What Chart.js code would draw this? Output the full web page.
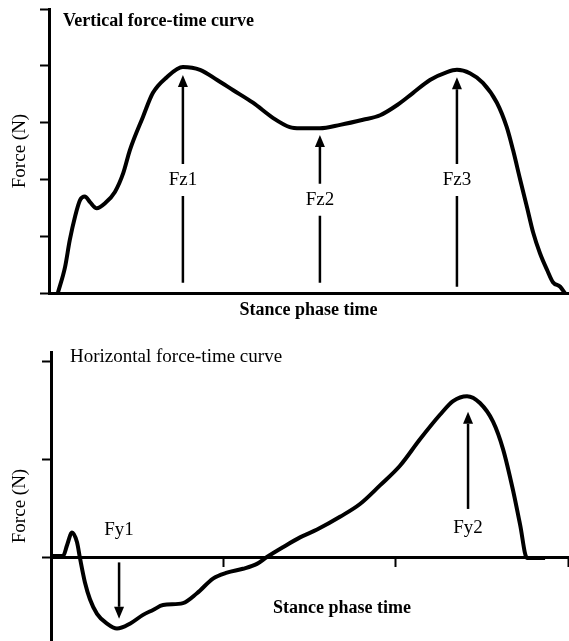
<!DOCTYPE html>
<html>
<head>
<meta charset="utf-8">
<script src="https://cdn.jsdelivr.net/npm/chart.js@4.4.1/dist/chart.umd.min.js"></script>
<style>
    html, body { margin: 0; padding: 0; background: #fff; }
    body { width: 569px; height: 641px; position: relative; overflow: hidden; }
    #vertical-chart { position: absolute; left: 0; top: 0; }
    #horizontal-chart { position: absolute; left: 0; top: 320px; }
</style>
</head>
<body>
<canvas id="vertical-chart" width="569" height="330"></canvas>
<canvas id="horizontal-chart" width="569" height="340"></canvas>
<script>
// vertical force-time curve (time in % of stance, force in tick units)
const verticalTime = [1.7, 3.1, 4.0, 5.0, 6.0, 6.9, 7.9, 9.2, 10.8, 12.7, 14.3, 15.6, 18.1, 20.0, 22.7, 25.8, 29.1, 32.4, 35.5, 39.3, 43.2, 46.4, 48.4, 52.2, 56.1, 60.5, 63.8, 67.1, 70.1, 73.4, 76.7, 78.6, 81.1, 83.6, 86.3, 88.2, 89.4, 90.8, 92.1, 93.3, 94.6, 96.0, 97.1, 98.5, 99.4];
const verticalForce = [0, 0.46, 0.93, 1.34, 1.64, 1.70, 1.60, 1.49, 1.58, 1.78, 2.11, 2.52, 3.10, 3.52, 3.80, 3.98, 3.93, 3.75, 3.57, 3.35, 3.08, 2.92, 2.90, 2.90, 2.96, 3.05, 3.13, 3.31, 3.52, 3.75, 3.89, 3.93, 3.87, 3.70, 3.35, 2.92, 2.52, 1.99, 1.51, 1.06, 0.70, 0.40, 0.19, 0.11, 0];

const verticalArrowLabels = ['Fz1', 'Fz2', 'Fz3'];
const verticalArrowTime = [25.8, 52.2, 78.6];
const verticalArrowTail = [0.18, 0.18, 0.11];
const verticalArrowTip = [3.84, 2.78, 3.80];
const verticalArrowLabelAt = [1.99, 1.64, 1.99];

// horizontal force-time curve
const horizontalTime = [0.01, 0.07, 0.093, 0.122, 0.151, 0.168, 0.197, 0.226, 0.267, 0.325, 0.383, 0.458, 0.534, 0.592, 0.650, 0.766, 0.847, 0.940, 1.021, 1.114, 1.195, 1.253, 1.346, 1.445, 1.544, 1.677, 1.793, 1.909, 2.025, 2.141, 2.257, 2.333, 2.414, 2.489, 2.565, 2.623, 2.681, 2.722, 2.762, 2.867];
const horizontalForce = [0.02, 0.02, 0.13, 0.26, 0.16, 0, -0.25, -0.42, -0.57, -0.67, -0.72, -0.67, -0.58, -0.53, -0.48, -0.46, -0.36, -0.21, -0.15, -0.11, -0.06, 0.01, 0.11, 0.21, 0.29, 0.42, 0.55, 0.74, 0.94, 1.21, 1.46, 1.60, 1.65, 1.58, 1.39, 1.11, 0.69, 0.34, 0, 0];

const horizontalArrowLabels = ['Fy1', 'Fy2'];
const horizontalArrowTime = [0.395, 2.42];
const horizontalArrowTail = [-0.045, 0.50];
const horizontalArrowTip = [-0.62, 1.49];
const horizontalArrowLabelAt = [0.29, 0.31];

const serif = "'Liberation Serif', 'Times New Roman', serif";

const forceArrowsPlugin = {
    id: 'forceArrows',
    afterDatasetsDraw(chart, args, opts) {
        const ctx = chart.ctx;
        const xScale = chart.scales.x;
        const yScale = chart.scales.y;
        ctx.save();
        ctx.strokeStyle = '#000';
        ctx.fillStyle = '#000';
        ctx.lineWidth = 2.5;
        ctx.font = '19px ' + serif;
        ctx.textAlign = 'center';
        ctx.textBaseline = 'middle';
        opts.labels.forEach((label, i) => {
            const x = xScale.getPixelForValue(opts.time[i]);
            const tail = yScale.getPixelForValue(opts.tail[i]);
            const tip = yScale.getPixelForValue(opts.tip[i]);
            const labelY = yScale.getPixelForValue(opts.labelAt[i]);
            const dir = tip < tail ? -1 : 1;
            const headEnd = tip - dir * 12;
            const lo = Math.min(tail, headEnd);
            const hi = Math.max(tail, headEnd);
            ctx.beginPath();
            if (labelY > lo && labelY < hi) {
                ctx.moveTo(x, lo);
                ctx.lineTo(x, labelY - 16);
                ctx.moveTo(x, labelY + 16);
                ctx.lineTo(x, hi);
            } else {
                ctx.moveTo(x, lo);
                ctx.lineTo(x, hi);
            }
            ctx.stroke();
            ctx.beginPath();
            ctx.moveTo(x, tip);
            ctx.lineTo(x - 5, headEnd);
            ctx.lineTo(x + 5, headEnd);
            ctx.closePath();
            ctx.fill();
            ctx.fillText(label, x, labelY);
        });
        ctx.restore();
    }
};

const figureTextPlugin = {
    id: 'figureText',
    afterDraw(chart, args, opts) {
        const ctx = chart.ctx;
        ctx.save();
        ctx.fillStyle = '#000';
        ctx.textAlign = 'left';
        ctx.textBaseline = 'alphabetic';
        opts.items.forEach(item => {
            ctx.font = item.font;
            ctx.fillText(item.text, item.x, item.y);
        });
        ctx.restore();
    }
};

const axisLine = { display: true, width: 3, color: '#000' };

const yAxisTitle = (padBottom) => ({
    display: true,
    text: 'Force (N)',
    color: '#000',
    font: { family: serif, size: 19 },
    padding: { top: 8.6, bottom: padBottom }
});

const makeLine = (times, forces) => ({
    type: 'line',
    data: times.map((t, i) => ({ x: t, y: forces[i] })),
    borderColor: '#000',
    borderWidth: 4,
    pointRadius: 0,
    fill: false,
    cubicInterpolationMode: 'monotone'
});

new Chart(document.querySelector('#vertical-chart'), {
    type: 'line',
    data: { datasets: [makeLine(verticalTime, verticalForce)] },
    plugins: [forceArrowsPlugin, figureTextPlugin],
    options: {
        responsive: false,
        animation: false,
        devicePixelRatio: 1,
        events: [],
        layout: { padding: { left: 0, top: 9, right: 1, bottom: 0 } },
        plugins: {
            legend: { display: false },
            tooltip: { enabled: false },
            forceArrows: {
                labels: verticalArrowLabels,
                time: verticalArrowTime,
                tail: verticalArrowTail,
                tip: verticalArrowTip,
                labelAt: verticalArrowLabelAt
            },
            figureText: {
                items: [{ text: 'Vertical force-time curve', x: 63, y: 26, font: 'bold 18px ' + serif }]
            }
        },
        scales: {
            x: {
                type: 'linear',
                min: 0,
                max: 100,
                border: axisLine,
                grid: { drawOnChartArea: false, drawTicks: false },
                ticks: { display: false },
                title: {
                    display: true,
                    text: 'Stance phase time',
                    color: '#000',
                    font: { family: serif, size: 18, weight: 'bold' },
                    padding: { top: 6.2, bottom: 9.2 }
                }
            },
            y: {
                min: 0,
                max: 5,
                border: axisLine,
                grid: { drawOnChartArea: false, drawTicks: true, tickLength: 9, tickWidth: 2, tickColor: '#000' },
                ticks: { display: false, stepSize: 1 },
                title: yAxisTitle(8.6)
            }
        }
    }
});

new Chart(document.querySelector('#horizontal-chart'), {
    type: 'line',
    data: { datasets: [makeLine(horizontalTime, horizontalForce)] },
    plugins: [forceArrowsPlugin, figureTextPlugin],
    options: {
        responsive: false,
        animation: false,
        devicePixelRatio: 1,
        events: [],
        layout: { padding: { left: 0, top: 32, right: 1, bottom: 0 } },
        plugins: {
            legend: { display: false },
            tooltip: { enabled: false },
            forceArrows: {
                labels: horizontalArrowLabels,
                time: horizontalArrowTime,
                tail: horizontalArrowTail,
                tip: horizontalArrowTip,
                labelAt: horizontalArrowLabelAt
            },
            figureText: {
                items: [
                    { text: 'Horizontal force-time curve', x: 70, y: 42, font: '19px ' + serif },
                    { text: 'Stance phase time', x: 273, y: 293, font: 'bold 18px ' + serif }
                ]
            }
        },
        scales: {
            x: {
                type: 'linear',
                position: { y: 0 },
                min: 0,
                max: 3,
                border: axisLine,
                grid: { drawOnChartArea: false, drawTicks: true, tickLength: 8, tickWidth: 2, tickColor: '#000' },
                ticks: { display: false, stepSize: 1 }
            },
            y: {
                min: -1.04,
                max: 2.1,
                border: axisLine,
                grid: { drawOnChartArea: false, drawTicks: true, tickLength: 9, tickWidth: 2, tickColor: '#000' },
                ticks: { display: false, stepSize: 1, includeBounds: false },
                title: yAxisTitle(10.6)
            }
        }
    }
});
</script>
</body>
</html>
